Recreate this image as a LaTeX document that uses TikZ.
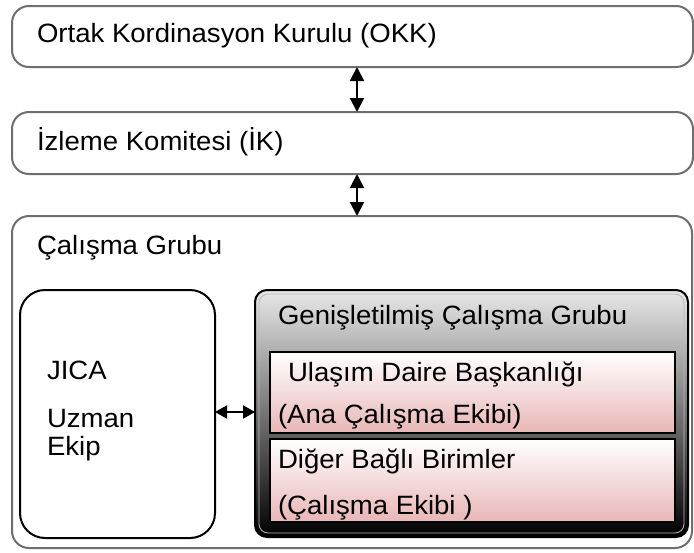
\documentclass[tikz,border=0pt]{standalone}
\usepackage{fontspec}
\setmainfont{Liberation Sans}[FakeStretch=1.04]
\usetikzlibrary{arrows.meta}
\definecolor{framegray}{RGB}{110,110,110}
\definecolor{pinkb}{RGB}{232,182,182}
\tikzset{
  outerbox/.style={draw=framegray, line width=2pt, rounded corners=17pt, inner sep=0pt, outer sep=0pt, fill=white},
  jicabox/.style={draw=black, line width=2pt, rounded corners=25pt, inner sep=0pt, outer sep=0pt, fill=white},
  genbox/.style={draw=black, line width=2pt, rounded corners=12pt, inner sep=0pt, outer sep=0pt,
    top color=gray!18, middle color=gray!55, bottom color=black},
  pinkbox/.style={draw=black, line width=2pt, inner sep=0pt, outer sep=0pt, top color=white, bottom color=pinkb},
  txt/.style={anchor=base west, inner sep=0pt, outer sep=0pt, font=\fontsize{26.5}{30}\selectfont},
  arr/.style={line width=2pt, {Triangle[width=14pt,length=14pt]}-{Triangle[width=14pt,length=14pt]}},
  harr/.style={line width=2pt, {Triangle[width=13pt,length=12pt]}-{Triangle[width=13pt,length=12pt]}}
}
\begin{document}
\begin{tikzpicture}[x=1pt,y=-1pt]
\useasboundingbox (0,0) rectangle (694,552);
% boxes
\node[outerbox, minimum width=681pt, minimum height=61pt] (OKK) at (352.5,36.5) {};
\node[outerbox, minimum width=681pt, minimum height=62pt] (IK) at (352.5,143) {};
\node[outerbox, minimum width=680pt, minimum height=332pt] (CG) at (352,382) {};
\node[jicabox, minimum width=195pt, minimum height=248pt] (JICA) at (117.5,414) {};
\node[genbox, minimum width=433pt, minimum height=247pt] (GEN) at (471.5,413.5) {};
\draw[gray!55, line width=0.8pt, rounded corners=9pt] ([shift={(4pt,-4pt)}]GEN.north west) rectangle ([shift={(-4pt,4pt)}]GEN.south east);
\node[pinkbox, minimum width=405pt, minimum height=81pt] (IN1) at (472.5,392.5) {};
\node[pinkbox, minimum width=405pt, minimum height=83pt] (IN2) at (472.5,480.5) {};
% texts
\node[txt] (tOKK) at (37,42) {Ortak Kordinasyon Kurulu (OKK)};
\node[txt] (tIK) at (37,150) {İzleme Komitesi (İK)};
\node[txt] (tCG) at (37,254) {Çalışma Grubu};
\node[txt] (tJ1) at (47,379) {JICA};
\node[txt] (tJ2) at (47,427) {Uzman};
\node[txt] (tJ3) at (47,455) {Ekip};
\node[txt] (tGEN) at (278,324) {Genişletilmiş Çalışma Grubu};
\node[txt] (tA1) at (288,381) {Ulaşım Daire Başkanlığı};
\node[txt] (tA2) at (278,423) {(Ana Çalışma Ekibi)};
\node[txt] (tB1) at (278,468) {Diğer Bağlı Birimler};
\node[txt] (tB2) at (278,514) {(Çalışma Ekibi )};
% connectors
\draw[arr] ([xshift=4.5pt]OKK.south) -- ([xshift=4.5pt]IK.north);
\draw[arr] ([xshift=4.5pt]IK.south) -- ([xshift=5pt]CG.north);
\draw[harr] ([yshift=2pt]JICA.east) -- ([yshift=1.5pt]GEN.west);
\end{tikzpicture}
\end{document}
